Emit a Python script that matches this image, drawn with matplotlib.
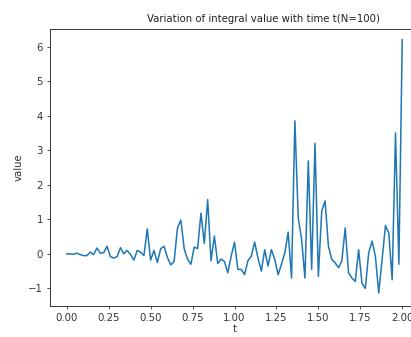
import matplotlib
matplotlib.use("Agg")
import matplotlib.pyplot as plt
import numpy as np

# N=100 steps over t in [0, 2]
N = 100
t = np.linspace(0, 2, N + 1)

# values
value = [
    0.00, 0.00, -0.01, 0.02, -0.02, -0.05, -0.05, 0.05, -0.02, 0.17,
    0.02, 0.03, 0.22, -0.08, -0.12, -0.08, 0.18, 0.00, 0.10, -0.02,
    -0.18, 0.10, 0.05, -0.05, 0.72, -0.18, 0.10, -0.25, 0.15, 0.22,
    -0.10, -0.32, -0.22, 0.75, 0.98, 0.15, -0.15, -0.30, 0.20, 0.15,
    1.18, 0.30, 1.57, -0.20, 0.52, -0.28, -0.15, -0.22, -0.55, -0.07,
    0.34, -0.45, -0.45, -0.60, -0.20, -0.07, 0.34, -0.12, -0.50, 0.12,
    -0.35, 0.12, -0.16, -0.60, -0.30, 0.03, 0.63, -0.70, 3.85, 1.04,
    0.42, -0.70, 2.69, -0.45, 3.20, -0.65, 1.24, 1.53, 0.22, -0.16,
    -0.26, -0.40, -0.20, 0.75, -0.55, -0.70, -0.80, 0.12, -0.85, -1.00,
    0.03, 0.37, -0.07, -1.13, -0.16, 0.82, 0.60, -0.75, 3.50, -0.30,
    6.20,
]

title = "Variation of integral value with time t(N=100)"
xticks = [0.00, 0.25, 0.50, 0.75, 1.00, 1.25, 1.50, 1.75, 2.00]
yticks = [-1, 0, 1, 2, 3, 4, 5, 6]

W, H = 411, 337
fig = plt.figure(figsize=(W / 100, H / 100), dpi=100)
# axes runs past the right edge of the picture, as in the reference
ax = fig.add_axes([50 / W, (H - 305.7) / H, 369 / W, 276.4 / H])

ax.plot(t, value, color="#1f77b4", linewidth=1.1)
ax.set_xlim(-0.1, 2.1)
ax.set_ylim(-1.5, 6.5)
ax.set_xticks(xticks)
ax.set_xticklabels([f"{v:.2f}" for v in xticks])
ax.set_yticks(yticks)

ax.tick_params(labelsize=7.3, length=2.5, width=0.6, pad=2.5, colors="#333333")
for s in ax.spines.values():
    s.set_linewidth(0.7)
    s.set_color("#333333")

ax.set_xlabel("t", fontsize=7.3, color="#333333", labelpad=1)
ax.set_ylabel("value", fontsize=7.3, color="#333333", labelpad=3)
# centre the title where the reference has it
ax.set_title(title, fontsize=7.3, x=0.579, pad=5, color="#222222")

fig.savefig("out.png", dpi=100)
